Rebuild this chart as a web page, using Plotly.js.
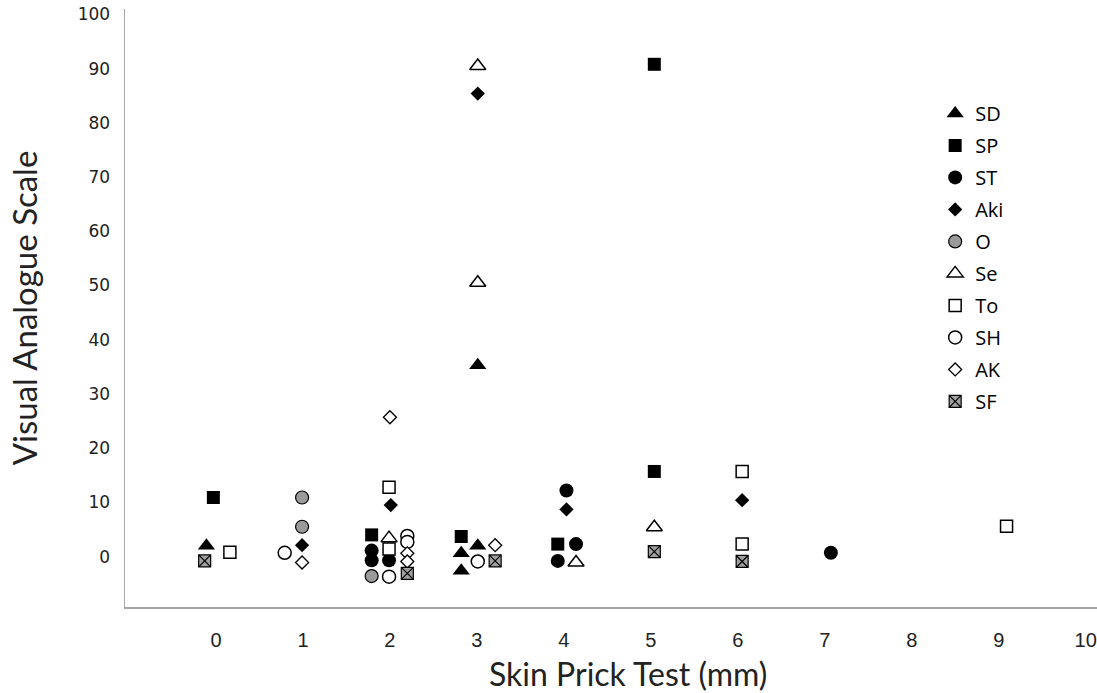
<!DOCTYPE html>
<html>
<head>
<meta charset="utf-8">
<script src="https://cdn.plot.ly/plotly-3.0.1.min.js"></script>
<style>html,body{margin:0;padding:0;background:#fff;}#chart{width:1097px;height:693px;}</style>
</head>
<body>
<div id="chart"></div>
<script>
// Skin prick test (mm) and VAS values (small offsets = original dodging)
var xTicks = [0,1,2,3,4,5,6,7,8,9,10];
var xTickText = ["0","1","2","3","4","5","6","7","8","9","10"];

var sdX = [-0.11, 3.01, 2.82, 2.82, 3.01];
var sdY = [2.0, 35.3, 0.6, -2.6, 2.0];

var spX = [-0.03, 1.79, 2.82, 3.93, 5.04, 5.04];
var spY = [10.9, 4.0, 3.7, 2.3, 90.8, 15.7];

var stX = [1.79, 1.79, 1.99, 4.03, 4.14, 3.93, 7.07];
var stY = [1.1, -0.7, -0.7, 12.2, 2.3, -0.8, 0.7];

var akiX = [0.99, 2.01, 3.01, 4.03, 6.05];
var akiY = [2.1, 9.5, 85.4, 8.7, 10.4];

var oX = [0.99, 0.99, 1.79];
var oY = [10.9, 5.5, -3.6];

var seX = [1.99, 3.01, 3.01, 4.14, 5.04];
var seY = [3.4, 90.5, 50.5, -1.1, 5.4];

var toX = [0.16, 1.99, 1.99, 6.05, 6.05, 9.09];
var toY = [0.8, 12.8, 1.4, 15.7, 2.3, 5.6];

var shX = [0.79, 1.99, 2.2, 2.2, 3.01];
var shY = [0.7, -3.7, 3.8, 2.7, -0.9];

var akX = [0.99, 2.0, 2.2, 2.2, 3.21];
var akY = [-1.1, 25.7, 0.6, -0.9, 2.1];

var sfX = [-0.13, 2.2, 3.21, 5.04, 6.05];
var sfY = [-0.8, -3.1, -0.8, 0.9, -0.9];

function tr(name, x, y, symbol, size, fill, lw) {
  return {
    type: 'scatter', mode: 'markers', name: name, x: x, y: y, legendgroup: name,
    marker: {symbol: symbol, size: size, color: fill, line: {color: '#000', width: lw}},
    hoverinfo: 'x+y+name'
  };
}

var data = [
  tr('SD', sdX, sdY, 'triangle-up', 15, '#000', 0),
  tr('SP', spX, spY, 'square', 13, '#000', 0),
  tr('ST', stX, stY, 'circle', 14, '#000', 0),
  tr('Aki', akiX, akiY, 'diamond', 11, '#000', 0),
  tr('O', oX, oY, 'circle', 13, '#9a9a9a', 1.2),
  tr('Se', seX, seY, 'triangle-up', 14, '#fff', 1.5),
  tr('To', toX, toY, 'square', 12, '#fff', 1.5),
  tr('SH', shX, shY, 'circle', 13, '#fff', 1.5),
  tr('AK', akX, akY, 'diamond', 10, '#fff', 1.3),
  tr('SF', sfX, sfY, 'square-x', 12, '#a0a0a0', 1.2)
];

var layout = {
  width: 1097, height: 693,
  margin: {l: 125, r: 0, t: 9, b: 86, pad: 0},
  paper_bgcolor: '#fff', plot_bgcolor: '#fff',
  showlegend: true,
  legend: {
    x: 0.8335, y: 0.858, xanchor: 'left', yanchor: 'top',
    font: {family: 'Open Sans, sans-serif', size: 20, color: '#000'},
    itemsizing: 'trace', tracegroupgap: 3, bgcolor: 'rgba(0,0,0,0)'
  },
  xaxis: {
    range: [-1.046, 10.13],
    tickmode: 'array', tickvals: xTicks, ticktext: xTickText,
    showgrid: false, zeroline: false,
    showline: true, linecolor: '#a6a6a6', linewidth: 1.5,
    ticks: 'outside', ticklen: 14, tickcolor: 'rgba(0,0,0,0)',
    tickfont: {family: 'Liberation Sans Narrow, Liberation Sans, sans-serif', size: 20, color: '#222'}
  },
  yaxis: {
    range: [-9.3, 101],
    tickmode: 'linear', tick0: 0, dtick: 10,
    showgrid: false, zeroline: false,
    showline: true, linecolor: '#a6a6a6', linewidth: 1.5,
    ticks: 'outside', ticklen: 10, tickcolor: 'rgba(0,0,0,0)',
    tickfont: {family: 'DejaVu Sans, Verdana, sans-serif', size: 17, color: '#222'},
    title: {text: 'Visual Analogue Scale', font: {family: 'Lato, sans-serif', size: 33, color: '#222'}, standoff: 30}
  },
  annotations: [{
    text: 'Skin Prick Test (mm)', xref: 'paper', yref: 'paper',
    x: (628 - 125) / 972, y: 0, yshift: -66, xanchor: 'center', yanchor: 'middle',
    showarrow: false, font: {family: 'Lato, sans-serif', size: 32, color: '#222'}
  }]
};

Plotly.newPlot('chart', data, layout, {displayModeBar: false, staticPlot: true});
</script>
</body>
</html>
